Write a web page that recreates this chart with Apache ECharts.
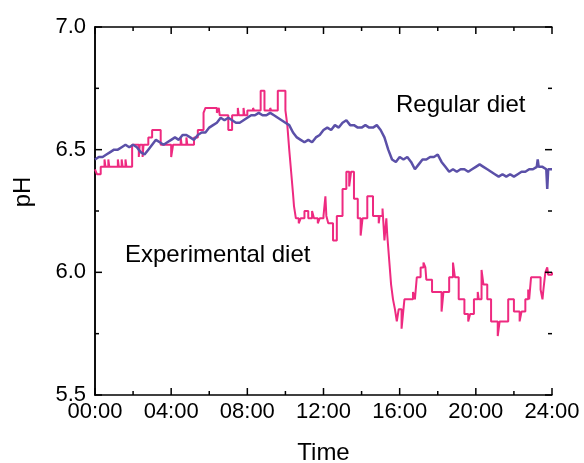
<!DOCTYPE html>
<html><head><meta charset="utf-8">
<script src="https://cdn.jsdelivr.net/npm/echarts@6/dist/echarts.min.js"></script>
<style>html,body{margin:0;padding:0;background:#fff}#c{width:584px;height:463px}</style>
</head><body><div id="c"></div>
<script>
const xTicks = [0, 4, 8, 12, 16, 20, 24];
const xMinorTicks = [2, 6, 10, 14, 18, 22];
const yTicks = [5.5, 6.0, 6.5, 7.0];
const yMinorTicks = [5.75, 6.25, 6.75];
const regularTime = [0.0,0.2,0.4,0.6,0.8,1.0,1.2,1.4,1.6,1.8,2.0,2.2,2.4,2.6,2.8,3.0,3.2,3.4,3.6,3.8,4.0,4.2,4.4,4.6,4.8,5.0,5.2,5.4,5.6,5.8,6.0,6.2,6.4,6.6,6.8,7.0,7.2,7.4,7.6,7.8,8.0,8.2,8.4,8.6,8.8,9.0,9.2,9.4,9.6,9.8,10.0,10.2,10.4,10.6,10.8,11.0,11.2,11.4,11.6,11.8,12.0,12.2,12.4,12.6,12.8,13.0,13.2,13.4,13.6,13.8,14.0,14.2,14.4,14.6,14.8,15.0,15.2,15.4,15.6,15.8,16.0,16.2,16.4,16.6,16.8,17.0,17.2,17.4,17.6,17.8,18.0,18.2,18.4,18.6,18.8,19.0,19.2,19.4,19.6,19.8,20.0,20.2,20.4,20.6,20.8,21.0,21.2,21.4,21.6,21.8,22.0,22.2,22.4,22.6,22.8,23.0,23.2,23.25,23.3,23.5,23.7,23.75,23.8,24.0];
const regularPH = [6.46,6.47,6.47,6.48,6.49,6.50,6.50,6.51,6.52,6.51,6.52,6.51,6.49,6.48,6.50,6.52,6.54,6.53,6.52,6.53,6.54,6.55,6.54,6.56,6.56,6.55,6.54,6.56,6.57,6.57,6.59,6.60,6.61,6.63,6.62,6.63,6.62,6.61,6.61,6.62,6.63,6.64,6.64,6.65,6.64,6.64,6.65,6.64,6.63,6.62,6.61,6.60,6.57,6.55,6.54,6.53,6.54,6.53,6.55,6.56,6.58,6.59,6.58,6.60,6.59,6.61,6.62,6.60,6.60,6.59,6.59,6.60,6.59,6.59,6.60,6.58,6.55,6.50,6.46,6.45,6.47,6.46,6.47,6.45,6.42,6.44,6.46,6.46,6.47,6.47,6.48,6.45,6.43,6.41,6.42,6.41,6.42,6.42,6.41,6.42,6.43,6.44,6.43,6.42,6.41,6.40,6.39,6.40,6.39,6.40,6.39,6.40,6.41,6.41,6.42,6.42,6.43,6.46,6.43,6.43,6.42,6.34,6.42,6.42];
const expTime = [0.0,0.1,0.3,0.5,0.55,0.7,0.75,1.2,1.25,1.4,1.45,1.6,1.65,1.95,2.3,2.35,2.5,2.55,2.8,3.0,3.45,4.0,4.1,4.5,4.55,4.8,4.85,5.2,5.4,5.7,5.8,6.4,6.5,6.55,7.0,7.2,7.5,7.55,7.8,7.85,8.0,8.3,8.35,8.7,8.9,9.2,9.25,9.6,10.0,10.1,10.2,10.3,10.4,10.45,10.55,10.7,10.8,11.0,11.2,11.4,11.5,11.7,11.8,12.0,12.1,12.15,12.25,12.5,12.7,13.0,13.2,13.35,13.45,13.6,13.8,13.95,14.05,14.3,14.6,14.9,14.95,15.1,15.2,15.3,15.35,15.45,15.55,15.65,15.75,15.85,15.95,16.1,16.2,16.25,16.7,16.8,16.9,17.1,17.25,17.35,17.4,17.7,18.2,18.3,18.6,18.8,18.9,19.1,19.4,19.6,19.7,19.9,20.1,20.15,20.3,20.4,20.6,20.8,21.15,21.25,21.7,22.0,22.3,22.4,22.6,22.75,22.8,22.9,23.4,23.5,23.55,23.65,23.75,23.8,24.0];
const expPH = [6.42,6.40,6.43,6.46,6.43,6.46,6.43,6.46,6.43,6.46,6.43,6.46,6.43,6.52,6.47,6.52,6.47,6.52,6.55,6.58,6.52,6.47,6.52,6.55,6.52,6.55,6.52,6.55,6.58,6.65,6.67,6.65,6.67,6.64,6.58,6.64,6.67,6.64,6.67,6.64,6.66,6.67,6.66,6.74,6.66,6.67,6.66,6.74,6.66,6.60,6.50,6.41,6.32,6.27,6.22,6.20,6.22,6.25,6.22,6.25,6.22,6.20,6.22,6.23,6.31,6.23,6.20,6.13,6.23,6.34,6.41,6.35,6.41,6.30,6.22,6.15,6.22,6.31,6.23,6.20,6.23,6.26,6.13,6.22,6.15,6.05,5.95,5.89,5.85,5.80,5.85,5.77,5.85,5.89,5.92,5.89,5.98,6.02,6.04,6.02,5.97,5.92,5.84,5.92,5.98,6.04,5.98,5.89,5.83,5.80,5.83,5.89,5.92,5.89,6.01,5.95,5.89,5.80,5.74,5.80,5.89,5.84,5.80,5.84,5.89,5.93,5.89,5.98,5.93,5.89,5.93,6.00,6.02,5.99,6.00];

const FONT = 'Liberation Sans, Arial, sans-serif';
const fmtTime = v => (v < 10 ? '0' : '') + v + ':00';
const X0 = xTicks[0], X1 = xTicks[xTicks.length - 1];
const Y0 = yTicks[0], Y1 = yTicks[yTicks.length - 1];

// tick items: [x, y, direction(0 up,1 down,2 right,3 left), major(1)/minor(0)]
const tickItems = [];
xTicks.forEach(v => { tickItems.push([v, Y0, 0, 1], [v, Y1, 1, 1]); });
xMinorTicks.forEach(v => { tickItems.push([v, Y0, 0, 0], [v, Y1, 1, 0]); });
yTicks.forEach(v => { tickItems.push([X0, v, 2, 1], [X1, v, 3, 1]); });
yMinorTicks.forEach(v => { tickItems.push([X0, v, 2, 0], [X1, v, 3, 0]); });

const axisLineStyle = () => ({show: true, lineStyle: {color: '#000', width: 1.5}});
const chart = echarts.init(document.getElementById('c'));
chart.setOption({
  animation: false,
  backgroundColor: '#fff',
  grid: {left: 95, right: 32, top: 27, bottom: 68, containLabel: false, outerBoundsMode: 'none'},
  xAxis: [{
    type: 'value', position: 'bottom', min: X0, max: X1, interval: 4,
    name: 'Time', nameLocation: 'middle', nameGap: 46,
    nameTextStyle: {fontFamily: FONT, fontSize: 24, color: '#000'},
    axisLine: axisLineStyle(), axisTick: {show: false}, minorTick: {show: false},
    axisLabel: {fontFamily: FONT, fontSize: 22, color: '#000', margin: 6, formatter: fmtTime},
    splitLine: {show: false}
  }, {
    type: 'value', position: 'top', min: X0, max: X1, interval: 4,
    axisLine: axisLineStyle(), axisTick: {show: false}, minorTick: {show: false},
    axisLabel: {show: false}, splitLine: {show: false}
  }],
  yAxis: [{
    type: 'value', position: 'left', min: Y0, max: Y1, interval: 0.5,
    axisLine: axisLineStyle(), axisTick: {show: false}, minorTick: {show: false},
    axisLabel: {fontFamily: FONT, fontSize: 22, color: '#000', margin: 9, formatter: v => v.toFixed(1)},
    splitLine: {show: false}
  }, {
    type: 'value', position: 'right', min: Y0, max: Y1, interval: 0.5,
    axisLine: axisLineStyle(), axisTick: {show: false}, minorTick: {show: false},
    axisLabel: {show: false}, splitLine: {show: false}
  }],
  series: [{
    name: 'Regular diet', type: 'line', showSymbol: false, symbol: 'none',
    data: regularTime.map((t, i) => [t, regularPH[i]]),
    lineStyle: {color: '#5b50a8', width: 2.5}, z: 3
  }, {
    name: 'Experimental diet', type: 'line', showSymbol: false, symbol: 'none', step: 'end',
    data: expTime.map((t, i) => [t, expPH[i]]),
    lineStyle: {color: '#ee2a80', width: 2}, z: 2
  }, {
    name: 'ticks', type: 'custom', coordinateSystem: 'cartesian2d', clip: false, silent: true, z: 5,
    encode: {x: 0, y: 1},
    data: tickItems,
    renderItem: (params, api) => {
      const p = api.coord([api.value(0), api.value(1)]);
      const dir = api.value(2);
      const len = api.value(3) ? 7 : 4;
      const dx = dir === 2 ? len : dir === 3 ? -len : 0;
      const dy = dir === 0 ? -len : dir === 1 ? len : 0;
      return {type: 'line', shape: {x1: p[0], y1: p[1], x2: p[0] + dx, y2: p[1] + dy},
              style: {stroke: '#000', lineWidth: 1.5}};
    }
  }],
  graphic: [
    {type: 'text', left: 396, top: 93, style: {text: 'Regular diet', font: '24px ' + FONT, fill: '#000'}},
    {type: 'text', left: 125, top: 243, style: {text: 'Experimental diet', font: '24px ' + FONT, fill: '#000'}},
    {type: 'text', x: 23, y: 192, rotation: Math.PI / 2, style: {text: 'pH', font: '24px ' + FONT, fill: '#000', align: 'center', verticalAlign: 'middle'}}
  ]
});
</script></body></html>
